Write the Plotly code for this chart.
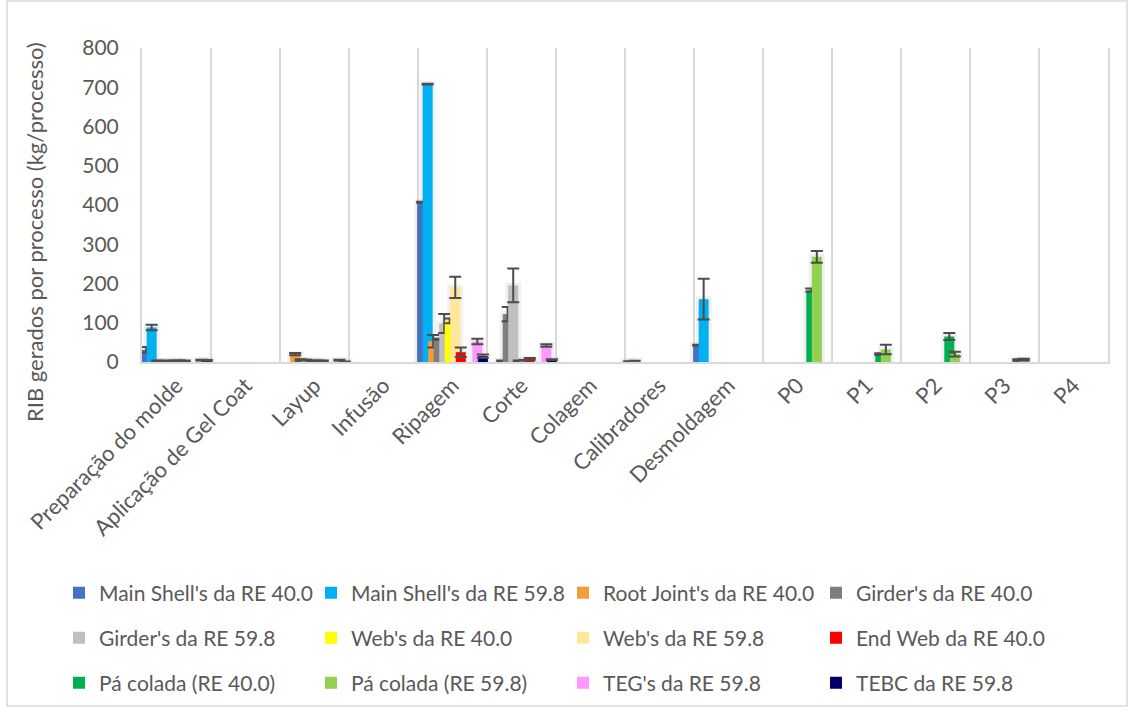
import plotly.graph_objects as go

# Process steps along the x axis
categories = [
    "Preparação do molde", "Aplicação de Gel Coat", "Layup", "Infusão",
    "Ripagem", "Corte", "Colagem", "Calibradores", "Desmoldagem",
    "P0", "P1", "P2", "P3", "P4",
]

# Waste generated per process (kg/process) and its deviation, per component
main_shell_40 = [31, 0, 0, 0, 407, 0, 0, 2, 43, 0, 0, 0, 0, 0]
main_shell_40_err = [7, 0, 0, 0, 1, 0, 0, 0, 1, 0, 0, 0, 0, 0]
main_shell_59 = [88, 0, 0, 0, 708, 0, 0, 3, 160, 0, 0, 0, 0, 0]
main_shell_59_err = [7, 0, 0, 0, 1, 0, 0, 0, 52, 0, 0, 0, 0, 0]
root_joint_40 = [3, 0, 20, 0, 53, 3, 0, 0, 0, 0, 0, 0, 0, 0]
root_joint_40_err = [1, 0, 3, 0, 16, 1, 0, 0, 0, 0, 0, 0, 0, 0]
girder_40 = [2, 0, 5, 0, 58, 122, 0, 0, 0, 0, 0, 0, 0, 0]
girder_40_err = [1, 0, 2, 0, 1, 18, 0, 0, 0, 0, 0, 0, 0, 0]
girder_59 = [2, 0, 5, 0, 98, 195, 0, 0, 0, 0, 0, 0, 0, 0]
girder_59_err = [1, 0, 1, 0, 24, 43, 0, 0, 0, 0, 0, 0, 0, 0]
web_40 = [3, 0, 3, 0, 105, 3, 0, 0, 0, 0, 0, 0, 0, 0]
web_40_err = [1, 0, 1, 0, 6, 1, 0, 0, 0, 0, 0, 0, 0, 0]
web_59 = [3, 0, 3, 0, 190, 4, 0, 0, 0, 0, 0, 0, 0, 0]
web_59_err = [1, 0, 1, 0, 27, 1, 0, 0, 0, 0, 0, 0, 0, 0]
end_web_40 = [3, 0, 3, 0, 25, 8, 0, 0, 0, 0, 0, 0, 0, 0]
end_web_40_err = [1, 0, 1, 0, 12, 2, 0, 0, 0, 0, 0, 0, 0, 0]
pa_colada_40 = [0, 0, 0, 0, 0, 0, 0, 0, 0, 183, 20, 65, 5, 0]
pa_colada_40_err = [0, 0, 0, 0, 0, 0, 0, 0, 0, 4, 2, 9, 2, 0]
pa_colada_59 = [0, 0, 0, 0, 0, 0, 0, 0, 0, 268, 32, 20, 6, 0]
pa_colada_59_err = [0, 0, 0, 0, 0, 0, 0, 0, 0, 15, 12, 6, 2, 0]
teg_59 = [5, 0, 5, 0, 52, 42, 0, 0, 0, 0, 0, 0, 0, 0]
teg_59_err = [1, 0, 1, 0, 7, 3, 0, 0, 0, 0, 0, 0, 0, 0]
tebc_59 = [4, 0, 1, 0, 15, 6, 0, 0, 0, 0, 0, 0, 0, 0]
tebc_59_err = [1, 0, 0, 0, 4, 1, 0, 0, 0, 0, 0, 0, 0, 0]

series_names = [
    "Main Shell's da RE 40.0", "Main Shell's da RE 59.8", "Root Joint's da RE 40.0",
    "Girder's da RE 40.0", "Girder's da RE 59.8", "Web's da RE 40.0",
    "Web's da RE 59.8", "End Web da RE 40.0", "Pá colada (RE 40.0)",
    "Pá colada (RE 59.8)", "TEG's da RE 59.8", "TEBC da RE 59.8",
]
series_values = [
    main_shell_40, main_shell_59, root_joint_40, girder_40, girder_59, web_40,
    web_59, end_web_40, pa_colada_40, pa_colada_59, teg_59, tebc_59,
]
series_errors = [
    main_shell_40_err, main_shell_59_err, root_joint_40_err, girder_40_err,
    girder_59_err, web_40_err, web_59_err, end_web_40_err, pa_colada_40_err,
    pa_colada_59_err, teg_59_err, tebc_59_err,
]
series_colors = [
    "#4472C4", "#00B0F0", "#F79A3A", "#7F7F7F", "#BFBFBF", "#FFFF00",
    "#FFE699", "#FF0000", "#00B050", "#92D050", "#FF99FF", "#000066",
]

FONT = "Lato"
TEXT_COLOR = "#595959"
GRID_COLOR = "#D9D9D9"

W, H = 1134, 715
L, R, T, B = 142, 26, 48, 353
PW, PH = W - L - R, H - T - B


def px_x(px):
    return (px - L) / PW


def px_y(py):
    return (H - B - py) / PH


BAR_W = 0.145
STEP = 0.08
FIRST_CENTER = -0.44

fig = go.Figure()

# soft halo behind each bar
for i, vals in enumerate(series_values):
    yv = [v if v else None for v in vals]
    fig.add_trace(go.Bar(
        x=categories, y=yv, width=BAR_W,
        offset=FIRST_CENTER + i * STEP - BAR_W / 2,
        marker=dict(color="rgba(0,0,0,0)",
                    line=dict(color="rgba(160,160,160,0.16)", width=6)),
        showlegend=False, hoverinfo="skip",
    ))

legend_ids = ["legend"] + [f"legend{k}" for k in range(2, 13)]
for i, (name, vals, errs, col) in enumerate(
        zip(series_names, series_values, series_errors, series_colors)):
    yv = [v if v else None for v in vals]
    ev = [e if (v and e) else None for v, e in zip(vals, errs)]
    fig.add_trace(go.Bar(
        x=categories, y=yv, name=name, width=BAR_W,
        offset=FIRST_CENTER + i * STEP - BAR_W / 2,
        marker=dict(color=col, line=dict(width=0)),
        error_y=dict(type="data", array=ev, visible=True,
                     color="#4D4D4D", thickness=2, width=6),
        legend=legend_ids[i],
    ))

# legend grid: 4 columns x 3 rows below the plot
legend_cols_x = [80, 332, 584, 837]
legend_rows_y = [593, 638, 683]
legend_layout = {}
for i, lid in enumerate(legend_ids):
    legend_layout[lid] = dict(
        orientation="h", xanchor="left", yanchor="middle",
        x=px_x(legend_cols_x[i % 4] - 21), y=px_y(legend_rows_y[i // 4]),
        font=dict(family=FONT, size=21, color=TEXT_COLOR),
        bgcolor="rgba(0,0,0,0)", itemwidth=30,
    )

fig.update_layout(
    width=W, height=H,
    margin=dict(l=L, r=R, t=T, b=B, autoexpand=False),
    paper_bgcolor="white", plot_bgcolor="white",
    barmode="overlay",
    font=dict(family=FONT, size=21, color=TEXT_COLOR),
    xaxis=dict(
        type="category", categoryorder="array", categoryarray=categories,
        tickson="boundaries", ticks="", showgrid=True, gridcolor=GRID_COLOR,
        gridwidth=2, showline=True, linecolor=GRID_COLOR, linewidth=2,
        tickangle=-45, tickfont=dict(family=FONT, size=22, color=TEXT_COLOR),
        range=[-0.5, len(categories) - 0.5],
    ),
    yaxis=dict(
        range=[0, 800], dtick=100, showgrid=False, zeroline=False,
        showline=True, linecolor=GRID_COLOR, linewidth=2, mirror=True,
        ticks="", ticklabelstandoff=17,
        tickfont=dict(family=FONT, size=21, color=TEXT_COLOR),
    ),
    annotations=[dict(
        text="RIB gerados por processo (kg/processo)",
        xref="paper", yref="paper", x=px_x(34), y=px_y(232),
        xanchor="center", yanchor="middle", textangle=-90, showarrow=False,
        font=dict(family=FONT, size=22, color=TEXT_COLOR),
    )],
    shapes=[dict(
        type="rect", xref="paper", yref="paper",
        x0=px_x(7), x1=px_x(1127), y0=px_y(706), y1=px_y(1),
        line=dict(color=GRID_COLOR, width=1.5), fillcolor="rgba(0,0,0,0)",
        layer="below",
    )],
    **legend_layout,
)

fig.write_html("out.html")
